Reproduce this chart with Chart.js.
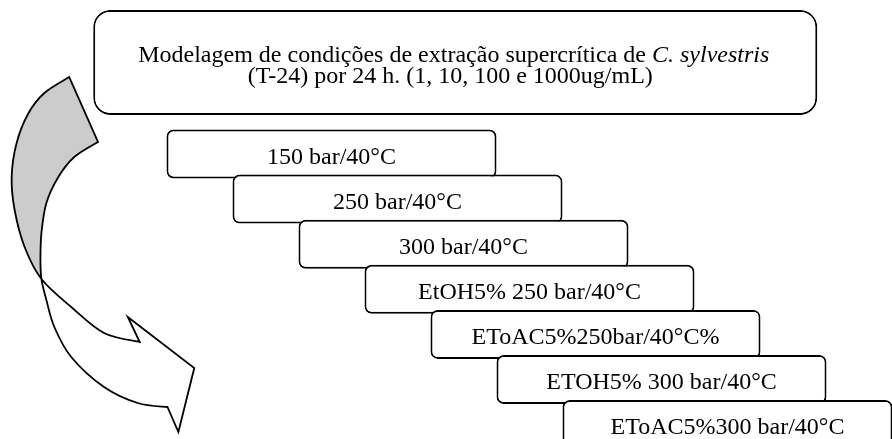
<!DOCTYPE html>
<html>
<head>
<meta charset="utf-8">
<script src="https://cdn.jsdelivr.net/npm/chart.js@4"></script>
<style>
  html, body { margin: 0; padding: 0; background: #ffffff; }
  #wrap { width: 892px; height: 439px; position: relative; }
</style>
</head>
<body>
<div id="wrap"><canvas id="c"></canvas></div>
<script>
// ---------- data (in diagram units: x = stage steps, y = rows) ----------
const stageLabels = [
  '150 bar/40°C',
  '250 bar/40°C',
  '300 bar/40°C',
  'EtOH5% 250 bar/40°C',
  'EToAC5%250bar/40°C%',
  'ETOH5% 300 bar/40°C',
  'EToAC5%300 bar/40°C'
];
const stageStart = [0, 1, 2, 3, 4, 5, 6];
const stageRow   = [0, 1, 2, 3, 4, 5, 6];
const stageSpan  = 5;

const titleLines = [
  [{ t: 'Modelagem de condições de extração supercrítica de ', italic: false },
   { t: 'C. sylvestris', italic: true }],
  [{ t: '(T-24) por 24 h. (1, 10, 100 e 1000ug/mL)', italic: false }]
];
const titleFrom = -1.11;
const titleTo   = 9.86;
const titleRow  = -2.03;

// curved arrow outline (same units)
const arrowUpper = [
  [-1.474, -1.707], [-1.850, -1.353], [-2.090, -0.909], [-2.271, -0.244],
  [-2.346, 0.510], [-2.301, 1.242], [-2.150, 2.062], [-1.895, 2.772],
  [-1.444, 3.392], [-0.947, 3.969], [-0.406, 4.169]
];
const arrowLower = [
  [-1.038, -0.266], [-1.398, 0.067], [-1.639, 0.510], [-1.820, 1.086],
  [-1.895, 1.752], [-1.910, 2.350], [-1.895, 2.772], [-1.820, 3.237],
  [-1.699, 3.836], [-1.444, 4.501], [-0.947, 5.166], [-0.436, 5.521],
  [0.015, 5.610]
];
const arrowHead = [[-0.586, 3.614], [0.421, 4.745], [0.180, 6.164]];
const crossUpperIdx = 7, crossLowerIdx = 6;

// ---------- layout / style ----------
const W = 892, H = 439;
const unitX = 66, originX = 166.5;
const unitY = 45.1, originY = 154;
const FONT = '"Liberation Serif", "Times New Roman", serif';
const FS = 24;

const stairData = stageLabels.map((l, i) => ({ x: [stageStart[i], stageStart[i] + stageSpan], y: stageRow[i] }));

function catmull(ctx, pts, i0, i1, move) {
  const step = i1 >= i0 ? 1 : -1;
  const P = k => pts[Math.max(0, Math.min(pts.length - 1, k))];
  if (move) ctx.moveTo(P(i0).x, P(i0).y); else ctx.lineTo(P(i0).x, P(i0).y);
  for (let i = i0; i !== i1; i += step) {
    const p0 = P(i - step), p1 = P(i), p2 = P(i + step), p3 = P(i + 2 * step);
    ctx.bezierCurveTo(
      p1.x + (p2.x - p0.x) / 6, p1.y + (p2.y - p0.y) / 6,
      p2.x - (p3.x - p1.x) / 6, p2.y - (p3.y - p1.y) / 6,
      p2.x, p2.y);
  }
}

const arrowPlugin = {
  id: 'curvedArrow',
  beforeDatasetsDraw(chart) {
    const { ctx, scales: { x, y } } = chart;
    const toPx = a => a.map(p => ({ x: x.getPixelForValue(p[0]), y: y.getPixelForValue(p[1]) }));
    const U = toPx(arrowUpper), L = toPx(arrowLower), A = toPx(arrowHead);
    ctx.save();
    ctx.beginPath();
    catmull(ctx, U, 0, crossUpperIdx, true);
    catmull(ctx, L, crossLowerIdx, 0, false);
    ctx.closePath();
    ctx.fillStyle = '#cccccc';
    ctx.fill();
    ctx.beginPath();
    catmull(ctx, U, 0, U.length - 1, true);
    A.forEach(p => ctx.lineTo(p.x, p.y));
    catmull(ctx, L, L.length - 1, 0, false);
    ctx.closePath();
    ctx.lineWidth = 1.8;
    ctx.lineJoin = 'miter';
    ctx.strokeStyle = '#000000';
    ctx.stroke();
    ctx.restore();
  }
};

const labelPlugin = {
  id: 'boxLabels',
  afterDatasetsDraw(chart) {
    const { ctx } = chart;
    ctx.save();
    ctx.fillStyle = '#000000';
    ctx.textBaseline = 'alphabetic';
    const tEl = chart.getDatasetMeta(0).data[0];
    const tcx = (tEl.x + tEl.base) / 2;
    const lineOffsets = [{ dy: -0.5, dx: -1.5 }, { dy: 21, dx: -5 }];
    titleLines.forEach((segs, li) => {
      let total = 0;
      segs.forEach(s => { ctx.font = (s.italic ? 'italic ' : '') + FS + 'px ' + FONT; s.w = ctx.measureText(s.t).width; total += s.w; });
      let xx = tcx + lineOffsets[li].dx - total / 2;
      ctx.textAlign = 'left';
      segs.forEach(s => {
        ctx.font = (s.italic ? 'italic ' : '') + FS + 'px ' + FONT;
        ctx.fillText(s.t, xx, tEl.y + lineOffsets[li].dy);
        xx += s.w;
      });
    });
    ctx.textAlign = 'center';
    ctx.font = FS + 'px ' + FONT;
    chart.getDatasetMeta(1).data.forEach((el, i) => {
      ctx.fillText(stageLabels[i], (el.x + el.base) / 2, el.y + 9.5);
    });
    ctx.restore();
  }
};

new Chart(document.getElementById('c'), {
  type: 'bar',
  data: {
    datasets: [
      {
        label: 'title',
        data: [{ x: [titleFrom, titleTo], y: titleRow }],
        backgroundColor: '#ffffff',
        borderColor: '#000000',
        borderWidth: 2,
        borderSkipped: false,
        borderRadius: 17,
        maxBarThickness: 105,
        barPercentage: 20,
        categoryPercentage: 1,
        grouped: false
      },
      {
        label: 'stages',
        data: stairData,
        backgroundColor: '#ffffff',
        borderColor: '#000000',
        borderWidth: 2,
        borderSkipped: false,
        borderRadius: 7,
        maxBarThickness: 49,
        barPercentage: 20,
        categoryPercentage: 1,
        grouped: false
      }
    ]
  },
  options: {
    indexAxis: 'y',
    responsive: true,
    maintainAspectRatio: false,
    animation: false,
    layout: { padding: 0 },
    scales: {
      x: { type: 'linear', display: false, offset: false, min: -originX / unitX, max: (W - originX) / unitX },
      y: { type: 'linear', display: false, offset: false, reverse: true, min: -originY / unitY, max: (H - originY) / unitY }
    },
    plugins: { legend: { display: false }, tooltip: { enabled: false } }
  },
  plugins: [arrowPlugin, labelPlugin]
});
</script>
</body>
</html>
